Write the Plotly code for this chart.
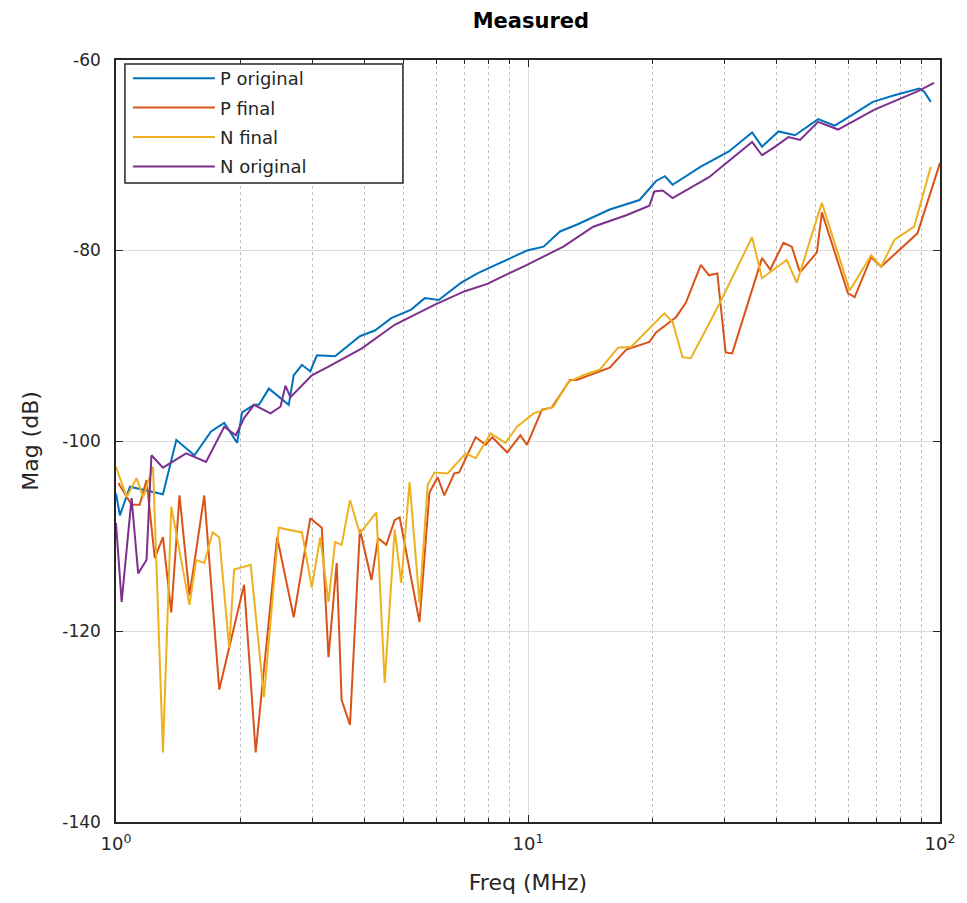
import plotly.graph_objects as go

# ---------------- data (frequency in MHz, magnitude in dB) ----------------
p_orig_f = [1.0, 1.022, 1.081, 1.164, 1.300, 1.401, 1.550, 1.701, 1.831, 1.968, 2.023, 2.163, 2.223,
            2.350, 2.507, 2.626, 2.700, 2.827, 2.962, 3.073, 3.402, 3.908, 4.249, 4.658, 5.205, 5.616,
            6.070, 6.870, 7.536, 9.066, 9.945, 10.91, 11.96, 13.12, 15.79, 18.65, 20.46, 21.50, 22.44,
            26.27, 30.73, 34.99, 36.98, 40.55, 44.48, 50.62, 55.54, 62.06, 68.70, 77.48, 89.01, 91.50,
            94.98]
p_orig_db = [-105.5, -107.8, -104.8, -105.1, -105.6, -99.9, -101.5, -99.0, -98.1, -100.2, -97.0, -96.2,
             -96.2, -94.5, -95.5, -96.2, -93.1, -92.0, -92.7, -91.0, -91.1, -89.0, -88.4, -87.1, -86.2,
             -85.0, -85.2, -83.4, -82.4, -80.8, -80.0, -79.6, -78.0, -77.3, -75.7, -74.7, -72.7, -72.2,
             -73.1, -71.2, -69.6, -67.6, -69.1, -67.5, -67.9, -66.2, -66.9, -65.6, -64.4, -63.7, -63.0,
             -63.3, -64.4]

p_final_f = [1.013, 1.091, 1.142, 1.186, 1.242, 1.300, 1.362, 1.426, 1.508, 1.638, 1.781, 2.046, 2.183,
             2.461, 2.700, 2.962, 3.159, 3.279, 3.433, 3.529, 3.698, 3.908, 4.169, 4.326, 4.530, 4.747,
             4.880, 5.453, 5.765, 6.036, 6.265, 6.622, 6.808, 7.465, 7.892, 8.191, 8.900, 9.581, 9.945,
             10.81, 11.42, 12.65, 13.12, 15.79, 17.32, 19.71, 20.46, 22.86, 24.16, 26.27, 27.50, 28.81,
             30.17, 31.31, 36.98, 38.72, 41.69, 43.67, 45.73, 50.26, 51.68, 59.80, 62.06, 68.08, 71.95,
             88.17, 100.0]
p_final_db = [-104.4, -106.7, -106.7, -104.1, -112.3, -110.1, -118.0, -105.7, -116.2, -105.7, -126.1,
              -115.1, -132.7, -110.1, -118.5, -108.1, -109.1, -122.7, -112.8, -127.2, -129.8, -109.3,
              -114.6, -110.2, -110.9, -108.3, -108.0, -119.0, -105.4, -103.8, -105.7, -103.4, -103.3,
              -99.6, -100.4, -99.6, -101.2, -99.4, -100.4, -96.7, -96.5, -93.6, -93.6, -92.3, -90.4,
              -89.6, -88.6, -87.0, -85.5, -81.5, -82.6, -82.4, -90.7, -90.8, -80.8, -82.0, -79.2, -79.6,
              -82.3, -80.2, -76.0, -84.5, -84.9, -80.7, -81.7, -78.2, -70.8]

n_final_f = [1.0, 1.061, 1.122, 1.164, 1.230, 1.300, 1.362, 1.508, 1.565, 1.638, 1.716, 1.781, 1.882,
             1.935, 2.123, 2.286, 2.484, 2.827, 2.988, 3.131, 3.279, 3.402, 3.529, 3.698, 3.908, 4.286,
             4.490, 4.747, 4.923, 5.159, 5.453, 5.710, 5.927, 6.378, 7.064, 7.465, 8.114, 8.816, 9.408,
             10.32, 11.53, 12.53, 13.62, 14.94, 16.54, 17.81, 21.42, 22.44, 23.72, 24.85, 29.07, 34.99,
             36.98, 42.48, 44.91, 51.68, 60.37, 68.08, 71.95, 77.48, 86.56, 94.98]
n_final_db = [-102.7, -105.9, -103.9, -105.9, -102.7, -132.7, -106.9, -117.2, -112.5, -112.8, -109.6,
              -110.1, -121.7, -113.5, -113.0, -126.9, -109.1, -109.6, -115.4, -110.1, -116.9, -110.6,
              -110.9, -106.2, -109.7, -107.5, -125.4, -109.3, -114.9, -104.3, -117.0, -104.6, -103.3,
              -103.4, -101.3, -101.8, -99.2, -100.2, -98.5, -97.1, -96.4, -93.8, -93.1, -92.5, -90.2,
              -90.1, -86.6, -87.5, -91.2, -91.3, -85.7, -78.6, -82.9, -81.0, -83.4, -75.0, -84.2, -80.5,
              -81.7, -78.9, -77.5, -71.2]

n_orig_f = [1.0, 1.032, 1.091, 1.132, 1.186, 1.219, 1.300, 1.480, 1.654, 1.831, 1.954, 2.046, 2.163,
            2.372, 2.507, 2.578, 2.651, 2.988, 3.279, 3.944, 4.747, 5.927, 7.000, 7.965, 9.945, 12.19,
            14.40, 17.32, 19.71, 20.26, 21.23, 22.44, 27.50, 34.99, 36.98, 39.81, 42.86, 45.73, 50.62,
            56.56, 69.34, 88.17, 96.72]
n_orig_db = [-108.6, -116.9, -106.0, -113.9, -112.5, -101.5, -102.8, -101.3, -102.2, -98.5, -99.4,
             -97.6, -96.2, -97.1, -96.4, -94.2, -95.4, -93.1, -92.2, -90.3, -87.8, -85.7, -84.3, -83.5,
             -81.5, -79.6, -77.5, -76.3, -75.3, -73.8, -73.7, -74.5, -72.3, -68.6, -70.0, -69.1, -68.1,
             -68.4, -66.5, -67.3, -65.2, -63.3, -62.4]

series_names = ["P original", "P final", "N final", "N original"]
series_colors = ["#0072BD", "#D95319", "#EDB120", "#7E2F8E"]

y_ticks = [-140, -120, -100, -80, -60]
y_tick_text = ["-140", "-120", "-100", "-80", "-60"]
x_ticks = [1, 10, 100]
x_tick_text = ["10<sup>0</sup>", "10<sup>1</sup>", "10<sup>2</sup>"]
x_minor = [2, 3, 4, 5, 6, 7, 8, 9, 20, 30, 40, 50, 60, 70, 80, 90]

# ---------------- figure ----------------
fig = go.Figure()
all_f = [p_orig_f, p_final_f, n_final_f, n_orig_f]
all_db = [p_orig_db, p_final_db, n_final_db, n_orig_db]
for i, (name, col) in enumerate(zip(series_names, series_colors)):
    fig.add_trace(go.Scatter(x=all_f[i], y=all_db[i], mode="lines", name=name,
                             legendgroup=name,
                             line=dict(color=col, width=2)))

# legend frame (box drawn as a shape, legend itself transparent)
PW, PH = 830.0, 762.0
fig.add_shape(type="rect", xref="paper", yref="paper",
              x0=9 / PW, x1=289 / PW, y0=1 - 123 / PH, y1=1 - 4 / PH,
              line=dict(color="#262626", width=1.5), fillcolor="white", layer="above")

FONT = "DejaVu Sans, Verdana, sans-serif"
fig.update_layout(
    width=967, height=903,
    margin=dict(l=116, r=21, t=60, b=81),
    paper_bgcolor="white", plot_bgcolor="white",
    font=dict(family=FONT, size=17, color="#262626"),
    title=dict(text="<b>Measured</b>", x=0.549, xanchor="center", y=0.977, yanchor="middle",
               font=dict(size=21, color="#000000")),
    showlegend=True,
    legend=dict(x=0.0145, y=1.0, xanchor="left", yanchor="top",
                bgcolor="rgba(0,0,0,0)", borderwidth=0,
                font=dict(size=18, color="#262626"),
                traceorder="grouped", tracegroupgap=3,
                itemwidth=82),
)
fig.update_xaxes(
    type="log", range=[0, 2],
    tickvals=x_ticks, ticktext=x_tick_text,
    ticks="inside", ticklen=7, tickwidth=1.2, tickcolor="#262626",
    showline=True, linecolor="#262626", linewidth=1.5, mirror="ticks",
    showgrid=True, gridcolor="#dcdcdc", gridwidth=1,
    minor=dict(tickvals=x_minor, ticks="inside", ticklen=4, tickcolor="#262626",
               showgrid=True, gridcolor="#bdbdbd", griddash="dot", gridwidth=1),
    zeroline=False,
    tickfont=dict(size=18),
    ticklabelstandoff=5,
    title=dict(text="Freq (MHz)", font=dict(size=22), standoff=21),
)
fig.update_yaxes(
    range=[-140, -60],
    tickvals=y_ticks, ticktext=y_tick_text,
    ticks="inside", ticklen=7, tickwidth=1.2, tickcolor="#262626",
    showline=True, linecolor="#262626", linewidth=1.5, mirror="ticks",
    showgrid=True, gridcolor="#dcdcdc", gridwidth=1,
    zeroline=False,
    tickfont=dict(size=17),
    ticklabelstandoff=10,
    title=dict(text="Mag (dB)", font=dict(size=22), standoff=18),
)

fig.write_html("out.html")
